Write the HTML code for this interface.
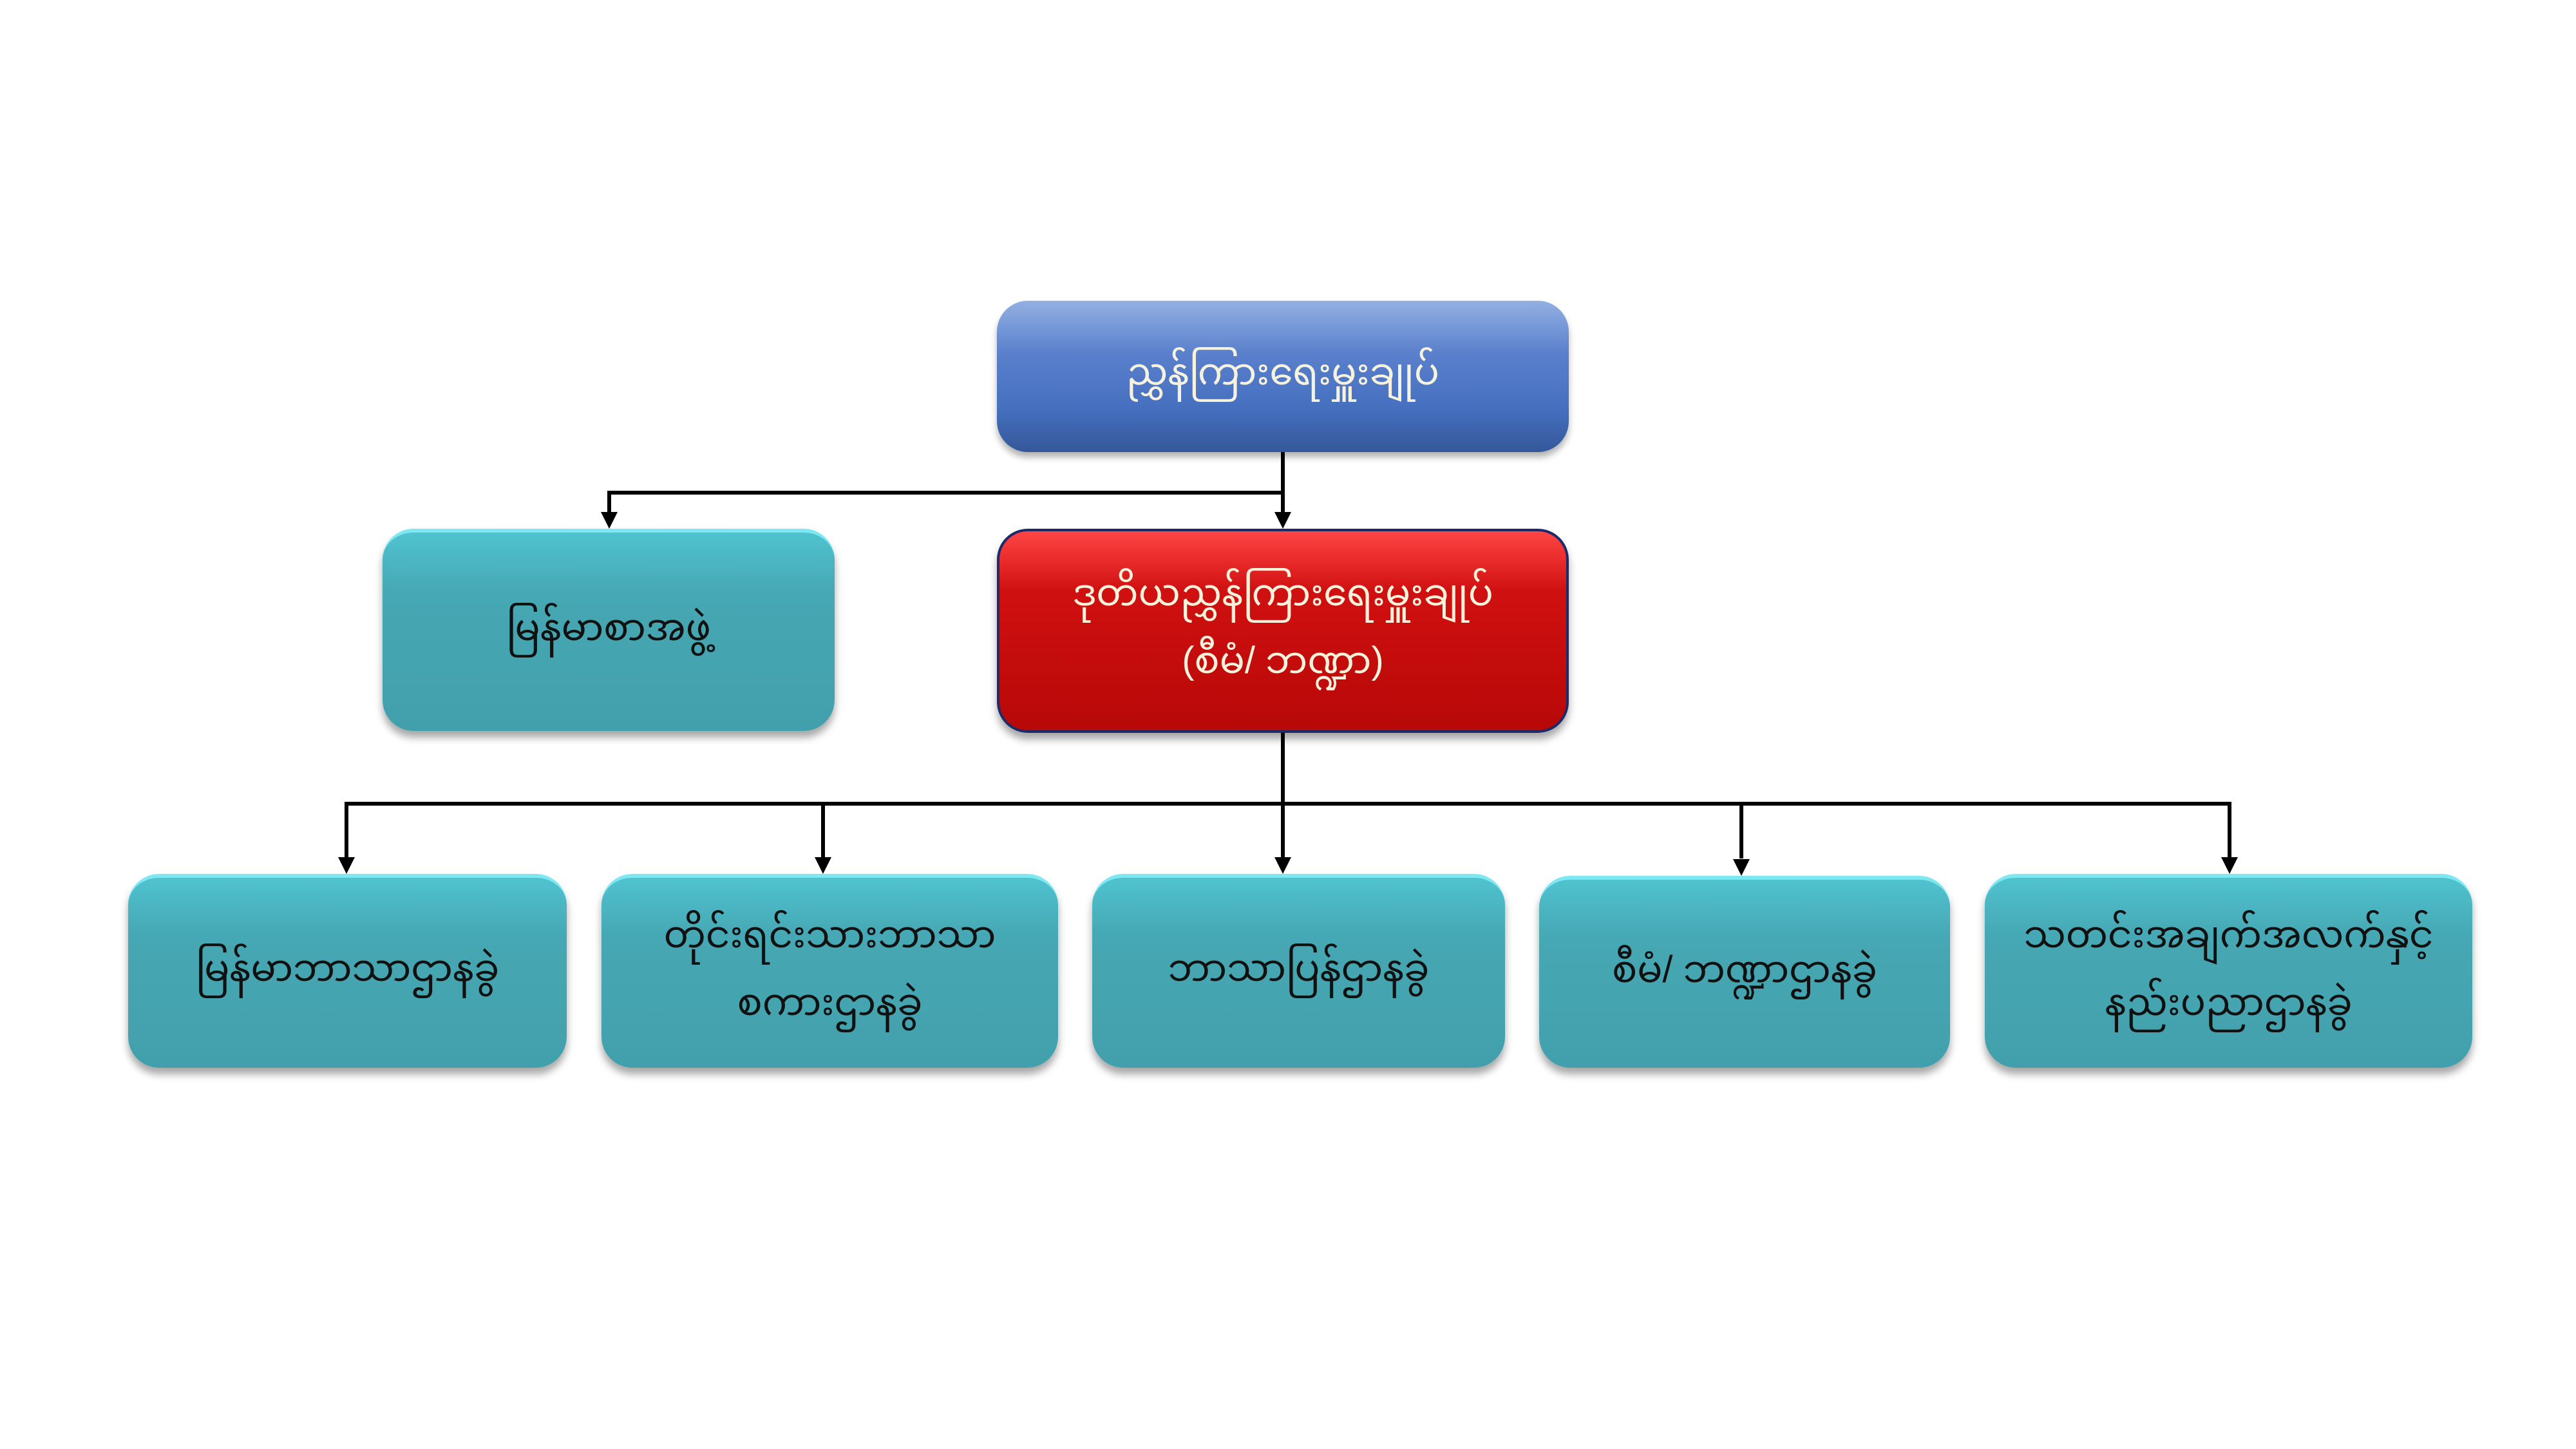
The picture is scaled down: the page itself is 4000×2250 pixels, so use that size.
<!DOCTYPE html>
<html><head><meta charset="utf-8"><style>
html,body{margin:0;padding:0;background:#fff;}
body{width:4000px;height:2250px;position:relative;overflow:hidden;font-family:"Liberation Sans","Noto Sans Myanmar","Padauk",sans-serif;}
.b{position:absolute;border-radius:48px;display:flex;align-items:center;justify-content:center;text-align:center;color:#f7f2dc;font-size:58px;line-height:1.8;box-sizing:border-box;padding-bottom:12px;}
.t{background:linear-gradient(#4fc3cf 0%,#46a8b4 30%,#42a0ac 100%);box-shadow:0 10px 12px rgba(0,0,0,.35);border-top:6px solid #7ee8f2;color:#111;}
.l{position:absolute;background:#000;}
.a{position:absolute;width:0;height:0;border-left:13px solid transparent;border-right:13px solid transparent;border-top:26px solid #000;}
</style></head><body>
<div class="b" style="left:1548px;top:467px;width:888px;height:235px;background:linear-gradient(#93b0e2 0%,#5a80cc 35%,#4670c0 70%,#34589a 100%);box-shadow:0 8px 10px rgba(0,0,0,.3);">ညွှန်ကြားရေးမှူးချုပ်</div>
<div class="b" style="left:1548px;top:821px;width:888px;height:317px;background:linear-gradient(#ff4545 0%,#d01010 30%,#b80808 100%);border:4px solid #1d2a6a;box-shadow:0 10px 12px rgba(0,0,0,.35);">ဒုတိယညွှန်ကြားရေးမှူးချုပ်<br>(စီမံ/ ဘဏ္ဍာ)</div>
<div class="b t" style="left:594px;top:821px;width:702px;height:314px;">မြန်မာစာအဖွဲ့</div>
<div class="b t" style="left:199px;top:1357px;width:681px;height:301px;">မြန်မာဘာသာဌာနခွဲ</div>
<div class="b t" style="left:934px;top:1357px;width:709px;height:301px;">တိုင်းရင်းသားဘာသာ<br>စကားဌာနခွဲ</div>
<div class="b t" style="left:1696px;top:1357px;width:641px;height:301px;">ဘာသာပြန်ဌာနခွဲ</div>
<div class="b t" style="left:2390px;top:1360px;width:638px;height:298px;">စီမံ/ ဘဏ္ဍာဌာနခွဲ</div>
<div class="b t" style="left:3082px;top:1357px;width:757px;height:301px;">သတင်းအချက်အလက်နှင့်<br>နည်းပညာဌာနခွဲ</div>
<div class="l" style="left:1989px;top:702px;width:6px;height:95px;"></div>
<div class="l" style="left:943px;top:762px;width:1052px;height:6px;"></div>
<div class="l" style="left:943px;top:762px;width:6px;height:35px;"></div>
<div class="a" style="left:933px;top:795px;"></div>
<div class="a" style="left:1979px;top:795px;"></div>
<div class="l" style="left:1989px;top:1138px;width:6px;height:112px;"></div>
<div class="l" style="left:535px;top:1245px;width:2930px;height:6px;"></div>
<div class="l" style="left:535px;top:1245px;width:6px;height:88px;"></div><div class="a" style="left:525px;top:1331px;"></div>
<div class="l" style="left:1275px;top:1245px;width:6px;height:88px;"></div><div class="a" style="left:1265px;top:1331px;"></div>
<div class="l" style="left:1989px;top:1245px;width:6px;height:88px;"></div><div class="a" style="left:1979px;top:1331px;"></div>
<div class="l" style="left:2701px;top:1245px;width:6px;height:88px;"></div><div class="a" style="left:2691px;top:1334px;"></div>
<div class="l" style="left:3459px;top:1245px;width:6px;height:88px;"></div><div class="a" style="left:3449px;top:1331px;"></div>
</body></html>
